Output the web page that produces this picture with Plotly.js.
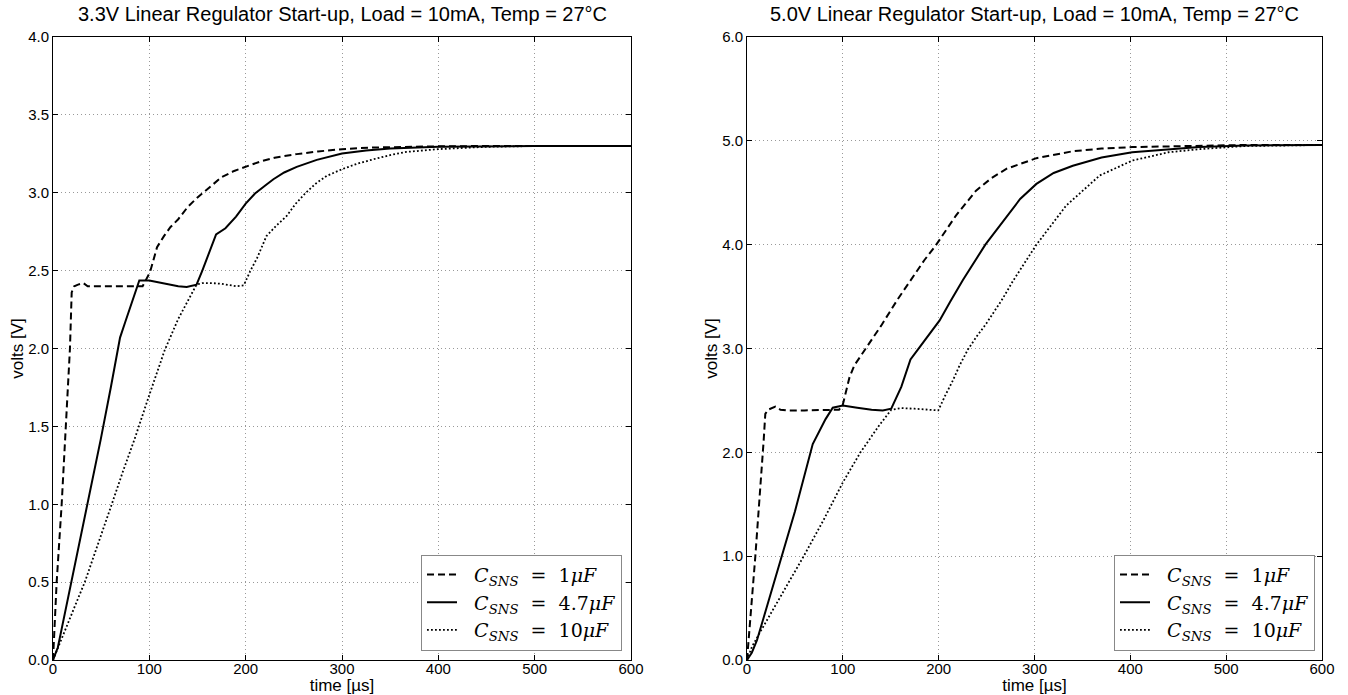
<!DOCTYPE html>
<html>
<head>
<meta charset="utf-8">
<script src="https://cdn.plot.ly/plotly-3.0.1.min.js"></script>
<style>html,body{margin:0;padding:0;background:#fff;}#chart{width:1348px;height:695px;}</style>
</head>
<body>
<div id="chart"></div>
<script>
// ---- 3.3V regulator (left) ----
const t33_1u = [0, 3.8, 9, 12.5, 17.6, 19.4, 22, 26, 31.5, 36, 40, 60, 80, 93, 100.7, 108, 115, 122, 130, 140, 150, 156, 165, 175, 188, 200, 215, 230, 253, 275, 300, 330, 360, 400, 450, 500, 600];
const v33_1u = [0, 0.5, 1.0, 1.415, 2.0, 2.36, 2.40, 2.41, 2.42, 2.40, 2.40, 2.40, 2.40, 2.40, 2.49, 2.65, 2.72, 2.78, 2.83, 2.91, 2.97, 3.0, 3.05, 3.10, 3.14, 3.166, 3.20, 3.225, 3.248, 3.265, 3.28, 3.29, 3.295, 3.298, 3.30, 3.30, 3.30];

const t33_47u = [0, 5, 9, 14, 19.4, 28, 36, 49.5, 60, 69.6, 75, 80, 85, 89.6, 100, 110, 120, 130, 138.8, 149, 155, 159.6, 163, 169.3, 179, 190, 200, 209.7, 220, 228.8, 240, 253, 273.8, 300, 325, 350, 400, 450, 500, 600];
const v33_47u = [0, 0.08, 0.2, 0.35, 0.5, 0.76, 1.0, 1.415, 1.75, 2.07, 2.17, 2.26, 2.35, 2.437, 2.437, 2.425, 2.41, 2.40, 2.395, 2.41, 2.50, 2.572, 2.63, 2.733, 2.772, 2.847, 2.93, 2.995, 3.045, 3.087, 3.13, 3.166, 3.211, 3.252, 3.272, 3.284, 3.295, 3.299, 3.30, 3.30];

const t33_10u = [0, 5.5, 15, 25, 33, 45, 61, 72, 84.5, 100.7, 116, 130, 140, 149, 155, 165, 175, 190, 198, 205, 212, 221.6, 232, 242.6, 252, 261.7, 273, 284, 300, 316, 332.7, 350, 367, 400, 450, 500, 600];
const v33_10u = [0, 0.086, 0.23, 0.38, 0.5, 0.71, 1.0, 1.2, 1.415, 1.715, 1.99, 2.19, 2.31, 2.41, 2.42, 2.42, 2.415, 2.40, 2.405, 2.50, 2.583, 2.722, 2.79, 2.851, 2.93, 2.995, 3.06, 3.108, 3.151, 3.187, 3.215, 3.242, 3.262, 3.28, 3.295, 3.30, 3.30];

// ---- 5.0V regulator (right) ----
const t50_1u = [0, 1.7, 8.7, 17.4, 19.1, 22, 29.6, 35, 40.7, 60, 80, 91.2, 96, 100, 104, 107, 112, 124, 140, 157.4, 170, 185, 197.5, 218, 239, 255, 270.6, 302, 340, 370, 402, 472, 520, 600];
const v50_1u = [0, 0.19, 1.0, 2.115, 2.37, 2.41, 2.44, 2.41, 2.404, 2.404, 2.404, 2.404, 2.41, 2.46, 2.60, 2.724, 2.837, 2.997, 3.22, 3.476, 3.65, 3.85, 4.0, 4.28, 4.52, 4.64, 4.73, 4.833, 4.90, 4.925, 4.94, 4.955, 4.96, 4.96];

const t50_47u = [0, 5, 10.4, 20, 36.5, 50, 68.6, 75, 82, 89.5, 100, 115, 130, 141.7, 150.5, 161, 170.6, 180, 190.5, 201, 212, 225.3, 248.7, 268.9, 285, 302, 320, 340, 370, 402, 472, 520, 600];
const v50_47u = [0, 0.07, 0.19, 0.49, 1.0, 1.43, 2.08, 2.2, 2.32, 2.43, 2.45, 2.43, 2.41, 2.404, 2.42, 2.63, 2.894, 3.01, 3.14, 3.27, 3.45, 3.66, 4.0, 4.247, 4.44, 4.585, 4.69, 4.76, 4.84, 4.89, 4.94, 4.955, 4.96];

const t50_10u = [0, 5.2, 13.9, 30, 45, 59.2, 80, 100, 118.4, 130, 138, 150.5, 161, 175, 190, 199.6, 207, 214.8, 222, 230.5, 240, 249.7, 266.5, 277.5, 302, 333, 368, 402, 440, 472, 520, 600];
const v50_10u = [0, 0.128, 0.272, 0.53, 0.77, 1.0, 1.35, 1.71, 2.0, 2.16, 2.26, 2.41, 2.426, 2.42, 2.41, 2.404, 2.55, 2.692, 2.84, 2.99, 3.12, 3.24, 3.476, 3.65, 4.0, 4.376, 4.666, 4.81, 4.89, 4.92, 4.95, 4.96];

const legendNames = [
  '&nbsp;&nbsp;<i>C</i><sub><i>SNS</i></sub>&nbsp; = &nbsp;1<i>μF</i>',
  '&nbsp;&nbsp;<i>C</i><sub><i>SNS</i></sub>&nbsp; = &nbsp;4.7<i>μF</i>',
  '&nbsp;&nbsp;<i>C</i><sub><i>SNS</i></sub>&nbsp; = &nbsp;10<i>μF</i>'
];
const titles = [
  '3.3V Linear Regulator Start-up, Load = 10mA, Temp = 27°C',
  '5.0V Linear Regulator Start-up, Load = 10mA, Temp = 27°C'
];
const xTitle = 'time [µs]';
const yTitle = 'volts [V]';

const styles = [
  {dash: '7px,4px', width: 2},
  {dash: 'solid', width: 2},
  {dash: '1.8px,2.2px', width: 1.8}
];

function tr(x, y, i, ax, leg) {
  return {
    x: x, y: y, type: 'scatter', mode: 'lines',
    name: legendNames[i],
    line: {color: '#000', dash: styles[i].dash, width: styles[i].width},
    xaxis: ax === 1 ? 'x' : 'x2', yaxis: ax === 1 ? 'y' : 'y2',
    legend: leg, hoverinfo: 'skip'
  };
}

const data = [
  tr(t33_1u, v33_1u, 0, 1, 'legend'),
  tr(t33_47u, v33_47u, 1, 1, 'legend'),
  tr(t33_10u, v33_10u, 2, 1, 'legend'),
  tr(t50_1u, v50_1u, 0, 2, 'legend2'),
  tr(t50_47u, v50_47u, 1, 2, 'legend2'),
  tr(t50_10u, v50_10u, 2, 2, 'legend2')
];

const sans = 'Liberation Sans, Arial, sans-serif';
const tickFont = {family: sans, size: 15, color: '#000'};
const axBase = {
  showline: true, linecolor: '#000', linewidth: 1, mirror: 'ticks',
  ticks: 'inside', ticklen: 5, tickcolor: '#000',
  showgrid: true, gridcolor: '#999', griddash: '1px,3px', gridwidth: 1,
  zeroline: false, tickfont: tickFont
};
const xExtra = {ticklabelstandoff: -5};

const L = 53, R = 26, W = 1348;
const pw = W - L - R;
const leftEnd = (631 - L) / pw;
const rightStart = (747 - L) / pw;

const legendBase = {
  xanchor: 'right', y: 0.015, yanchor: 'bottom',
  bgcolor: '#fff', bordercolor: '#888', borderwidth: 1,
  font: {family: 'DejaVu Serif, Liberation Serif, serif', size: 19, color: '#000'},
  itemwidth: 30
};

const layout = {
  width: 1348, height: 695,
  margin: {l: L, r: R, t: 37, b: 35},
  paper_bgcolor: '#fff', plot_bgcolor: '#fff',
  showlegend: true,
  xaxis: Object.assign({}, axBase, xExtra, {domain: [0, leftEnd], range: [0, 600], dtick: 100, anchor: 'y',
    title: {text: xTitle, font: {family: sans, size: 17, color: '#000'}, standoff: 3}}),
  yaxis: Object.assign({}, axBase, {range: [0, 4], dtick: 0.5, tickformat: '.1f', anchor: 'x',
    title: {text: yTitle, font: {family: sans, size: 17, color: '#000'}, standoff: 0}}),
  xaxis2: Object.assign({}, axBase, xExtra, {domain: [rightStart, 1], range: [0, 600], dtick: 100, anchor: 'y2',
    title: {text: xTitle, font: {family: sans, size: 17, color: '#000'}, standoff: 3}}),
  yaxis2: Object.assign({}, axBase, {range: [0, 6], dtick: 1, tickformat: '.1f', anchor: 'x2',
    title: {text: yTitle, font: {family: sans, size: 17, color: '#000'}, standoff: 0}}),
  legend: Object.assign({}, legendBase, {x: (622 - L) / pw}),
  legend2: Object.assign({}, legendBase, {x: (1315 - L) / pw}),
  annotations: [
    {text: titles[0], xref: 'x domain', yref: 'paper', x: 0.5, y: 1, xanchor: 'center', yanchor: 'bottom', yshift: 10, showarrow: false,
     font: {family: sans, size: 20, color: '#000'}},
    {text: titles[1], xref: 'x2 domain', yref: 'paper', x: 0.5, y: 1, xanchor: 'center', yanchor: 'bottom', yshift: 10, showarrow: false,
     font: {family: sans, size: 20, color: '#000'}}
  ]
};

Plotly.newPlot('chart', data, layout, {displayModeBar: false, staticPlot: true});
</script>
</body>
</html>
